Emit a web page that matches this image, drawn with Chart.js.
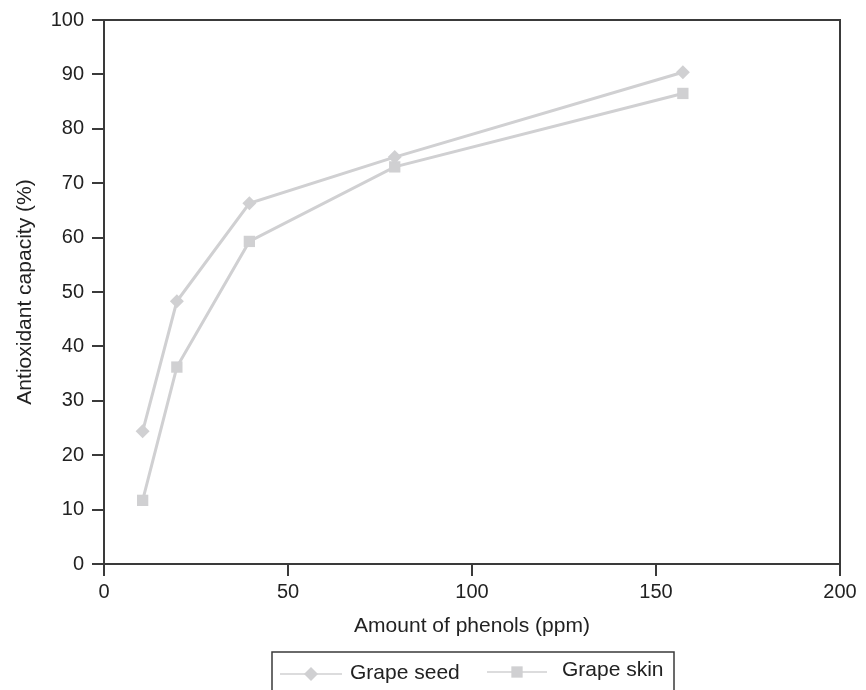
<!DOCTYPE html>
<html>
<head>
<meta charset="utf-8">
<script src="https://cdn.jsdelivr.net/npm/chart.js@4/dist/chart.umd.min.js"></script>
<style>
  html, body { margin: 0; padding: 0; background: #fff; }
  #wrap { width: 866px; height: 690px; }
</style>
</head>
<body>
<div id="wrap"><canvas id="phenolChart" width="866" height="690"></canvas></div>
<script>
// values
const phenolsPpm = [10.5, 19.8, 39.5, 79, 157.3];
const seedCapacity = [24.4, 48.3, 66.3, 74.8, 90.4];
const skinCapacity = [11.7, 36.2, 59.3, 73.0, 86.5];
const seriesNames = ["Grape seed", "Grape skin"];
const xTicks = [0, 50, 100, 150, 200];
const yTicks = [0, 10, 20, 30, 40, 50, 60, 70, 80, 90, 100];

const FONT = "'Liberation Sans', Arial, sans-serif";
const MARK = "#d0d0d2";
const AXIS = "#3a3a3a";

function toPoints(xs, ys) {
  return xs.map((x, i) => ({ x: x, y: ys[i] }));
}

// frame, axis titles and the boxed legend at the bottom
const extras = {
  id: "extras",
  afterDraw(chart) {
    const ctx = chart.ctx;
    const a = chart.chartArea;
    ctx.save();
    ctx.strokeStyle = AXIS;
    ctx.lineWidth = 2;
    ctx.beginPath();
    ctx.moveTo(a.left, a.top);
    ctx.lineTo(a.right, a.top);
    ctx.lineTo(a.right, a.bottom);
    ctx.stroke();

    ctx.fillStyle = "#222";
    ctx.font = "21px " + FONT;
    ctx.textAlign = "center";
    ctx.textBaseline = "middle";
    ctx.fillText("Amount of phenols (ppm)", (a.left + a.right) / 2, 626);
    ctx.save();
    ctx.translate(25, (a.top + a.bottom) / 2);
    ctx.rotate(-Math.PI / 2);
    ctx.fillText("Antioxidant capacity (%)", 0, 0);
    ctx.restore();

    // legend box
    ctx.lineWidth = 1.5;
    ctx.strokeRect(272, 652, 402, 60);
    const items = [
      { lx: 280, rx: 342, y: 674, style: "rectRot", r: 7, tx: 350, ty: 673 },
      { lx: 487, rx: 547, y: 672, style: "rect", r: 8, tx: 562, ty: 670 },
    ];
    ctx.textAlign = "left";
    items.forEach((it, i) => {
      ctx.strokeStyle = MARK;
      ctx.lineWidth = 1.5;
      ctx.beginPath();
      ctx.moveTo(it.lx, it.y);
      ctx.lineTo(it.rx, it.y);
      ctx.stroke();
      ctx.fillStyle = MARK;
      Chart.helpers.drawPoint(ctx, { pointStyle: it.style, radius: it.r, borderWidth: 0 }, (it.lx + it.rx) / 2, it.y);
      ctx.fillStyle = "#222";
      ctx.fillText(seriesNames[i], it.tx, it.ty);
    });
    ctx.restore();
  },
};

new Chart(document.getElementById("phenolChart"), {
  type: "line",
  data: {
    datasets: [
      {
        label: seriesNames[0],
        data: toPoints(phenolsPpm, seedCapacity),
        borderColor: MARK,
        backgroundColor: MARK,
        borderWidth: 3,
        pointStyle: "rectRot",
        pointRadius: 7,
        pointBorderWidth: 0,
        tension: 0,
      },
      {
        label: seriesNames[1],
        data: toPoints(phenolsPpm, skinCapacity),
        borderColor: MARK,
        backgroundColor: MARK,
        borderWidth: 3,
        pointStyle: "rect",
        pointRadius: 8,
        pointBorderWidth: 0,
        tension: 0,
      },
    ],
  },
  options: {
    responsive: false,
    animation: false,
    layout: { padding: { top: 16, right: 26, left: 0, bottom: 0 } },
    plugins: { legend: { display: false }, tooltip: { enabled: false } },
    scales: {
      x: {
        type: "linear",
        min: 0,
        max: 200,
        afterBuildTicks: (s) => { s.ticks = xTicks.map((v) => ({ value: v })); },
        afterFit: (s) => { s.height = 126; },
        grid: { drawOnChartArea: false, drawTicks: true, tickLength: 12, color: AXIS, lineWidth: 2 },
        border: { display: true, color: AXIS, width: 2 },
        ticks: { color: "#222", font: { family: FONT, size: 20 }, padding: 4, maxRotation: 0 },
      },
      y: {
        type: "linear",
        min: 0,
        max: 100,
        afterBuildTicks: (s) => { s.ticks = yTicks.map((v) => ({ value: v })); },
        afterFit: (s) => { s.width = 104; },
        grid: { drawOnChartArea: false, drawTicks: true, tickLength: 12, color: AXIS, lineWidth: 2 },
        border: { display: true, color: AXIS, width: 2 },
        ticks: { color: "#222", font: { family: FONT, size: 20 }, padding: 8 },
      },
    },
  },
  plugins: [extras],
});
</script>
</body>
</html>
